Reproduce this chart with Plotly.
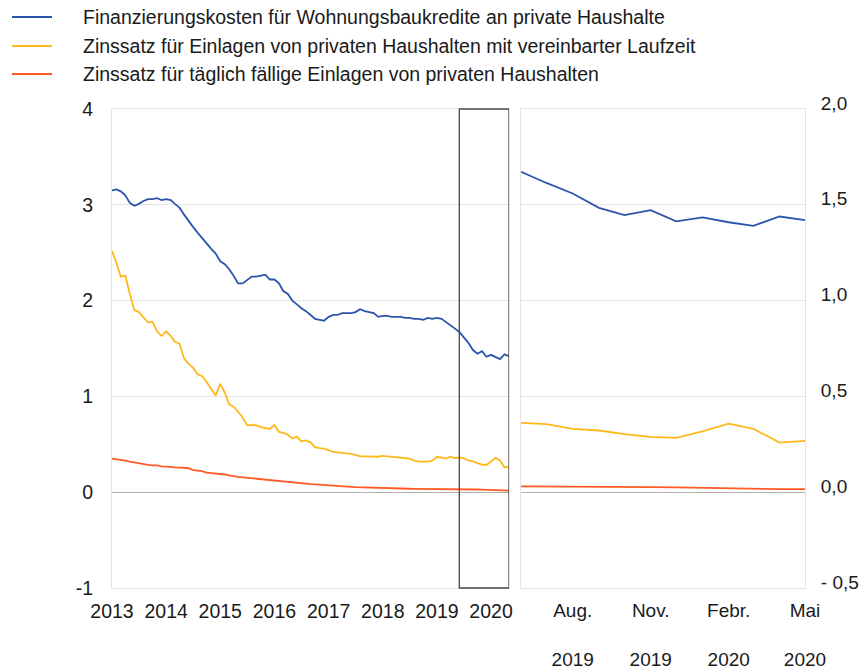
import pandas as pd
import plotly.graph_objects as go

# ---- data -------------------------------------------------------------
months = pd.date_range("2013-01-01", "2020-05-01", freq="MS").strftime("%Y-%m-%d").tolist()

series_names = [
    "Finanzierungskosten für Wohnungsbaukredite an private Haushalte",
    "Zinssatz für Einlagen von privaten Haushalten mit vereinbarter Laufzeit",
    "Zinssatz für täglich fällige Einlagen von privaten Haushalten",
]

kredite = [
    3.15, 3.16, 3.14, 3.10, 3.02, 2.99, 3.01, 3.04, 3.06, 3.06, 3.07, 3.05,
    3.06, 3.05, 3.01, 2.97, 2.90, 2.83, 2.77, 2.71, 2.65, 2.60, 2.54, 2.49,
    2.41, 2.38, 2.33, 2.26, 2.18, 2.18, 2.21, 2.25, 2.25, 2.26, 2.27, 2.22,
    2.22, 2.18, 2.10, 2.07, 2.00, 1.96, 1.92, 1.89, 1.85, 1.81, 1.80, 1.79,
    1.83, 1.85, 1.85, 1.87, 1.87, 1.87, 1.88, 1.91, 1.89, 1.88, 1.87, 1.83,
    1.84, 1.84, 1.83, 1.83, 1.83, 1.82, 1.82, 1.81, 1.81, 1.80, 1.82, 1.81,
    1.82, 1.81, 1.78, 1.75, 1.71,
    1.672, 1.614, 1.559, 1.484, 1.446, 1.472, 1.414, 1.434, 1.409, 1.390, 1.439, 1.420,
]

laufzeit = [
    2.52, 2.39, 2.25, 2.26, 2.07, 1.90, 1.88, 1.83, 1.77, 1.78, 1.68, 1.63,
    1.68, 1.63, 1.57, 1.55, 1.40, 1.34, 1.30, 1.23, 1.21, 1.15, 1.08, 1.01,
    1.13, 1.04, 0.92, 0.89, 0.84, 0.78, 0.70, 0.70, 0.70, 0.68, 0.67, 0.66,
    0.70, 0.63, 0.62, 0.60, 0.56, 0.58, 0.53, 0.54, 0.52, 0.47, 0.46, 0.455,
    0.44, 0.42, 0.415, 0.41, 0.41, 0.40, 0.39, 0.375, 0.375, 0.375, 0.37, 0.37,
    0.38, 0.375, 0.37, 0.37, 0.36, 0.355, 0.35, 0.33, 0.32, 0.32, 0.32, 0.33,
    0.37, 0.36, 0.35, 0.37, 0.355,
    0.362, 0.355, 0.331, 0.322, 0.303, 0.289, 0.284, 0.317, 0.358, 0.331, 0.259, 0.268,
]

taeglich = [
    0.35, 0.345, 0.34, 0.33, 0.32, 0.31, 0.30, 0.29, 0.285, 0.28, 0.28, 0.27,
    0.27, 0.265, 0.26, 0.26, 0.255, 0.25, 0.23, 0.225, 0.22, 0.205, 0.20, 0.195,
    0.195, 0.185, 0.175, 0.165, 0.16, 0.155, 0.15, 0.145, 0.14, 0.14, 0.135, 0.13,
    0.125, 0.12, 0.115, 0.11, 0.105, 0.10, 0.09, 0.088, 0.085, 0.082, 0.078, 0.075,
    0.07, 0.065, 0.06, 0.058, 0.056, 0.055, 0.052, 0.05, 0.05, 0.048, 0.046, 0.045,
    0.044, 0.042, 0.04, 0.04, 0.038, 0.037, 0.036, 0.035, 0.035, 0.035, 0.035, 0.034,
    0.034, 0.033, 0.033, 0.032, 0.032,
    0.030, 0.030, 0.029, 0.029, 0.028, 0.027, 0.025, 0.022, 0.018, 0.017, 0.016, 0.016,
]

zoom_start = "2019-06-01"   # start of the highlighted period / right panel

left_tickvals = ["2013-01-01", "2014-01-01", "2015-01-01", "2016-01-01",
                 "2017-01-01", "2018-01-01", "2019-01-01", "2020-01-01"]
left_ticktext = ["2013", "2014", "2015", "2016", "2017", "2018", "2019", "2020"]
left_yvals = [-1, 0, 1, 2, 3, 4]
left_ytext = ["-1", "0", "1", "2", "3", "4"]

right_tickvals = ["2019-08-01", "2019-11-01", "2020-02-01", "2020-05-01"]
right_ticktext = ["Aug.<br><br>2019", "Nov.<br><br>2019", "Febr.<br><br>2020", "Mai<br><br>2020"]
right_yvals = [-0.5, 0.0, 0.5, 1.0, 1.5, 2.0]
right_ytext = ["- 0,5", "0,0", "0,5", "1,0", "1,5", "2,0"]

colors = ["#2b55ad", "#ffb81c", "#ff5a26"]

# ---- figure -----------------------------------------------------------
W, H = 861, 671
FONT = "Liberation Sans, Arial, sans-serif"
FS = 19.5
TXT = "#1a1a1a"
GRID = "#e4e4e4"

idx0 = months.index(zoom_start)
fig = go.Figure()
for name, vals, col in zip(series_names, [kredite, laufzeit, taeglich], colors):
    fig.add_trace(go.Scatter(x=months, y=vals, mode="lines", name=name,
                             line=dict(color=col, width=1.8),
                             showlegend=False, xaxis="x", yaxis="y"))
for name, vals, col in zip(series_names, [kredite, laufzeit, taeglich], colors):
    fig.add_trace(go.Scatter(x=months[idx0:], y=vals[idx0:], mode="lines", name=name,
                             line=dict(color=col, width=1.8),
                             showlegend=False, xaxis="x2", yaxis="y2"))


def px_x(p):
    return p / W


def px_y(p):
    return 1 - p / H


dom_y = [px_y(588), px_y(109)]

axis_common = dict(showline=True, linecolor=GRID, linewidth=1, mirror=True,
                   gridcolor=GRID, gridwidth=1,
                   ticks="", automargin=False, fixedrange=True)
tf = dict(family=FONT, size=FS, color=TXT)

fig.update_layout(
    width=W, height=H,
    margin=dict(l=0, r=0, t=0, b=0),
    paper_bgcolor="white", plot_bgcolor="white",
    font=dict(family=FONT, size=FS, color=TXT),
    showlegend=False,
    xaxis=dict(domain=[px_x(112), px_x(509)], range=["2013-01-01", "2020-05-01"],
               type="date", tickmode="array", tickvals=left_tickvals, ticktext=left_ticktext,
               showgrid=False, ticklabelstandoff=6, anchor="y", tickfont=tf, **axis_common),
    yaxis=dict(domain=dom_y, range=[-1, 4], tickmode="array", tickvals=left_yvals,
               ticktext=left_ytext, showgrid=True, zeroline=True, zerolinecolor="#b0b0b0",
               zerolinewidth=1, ticklabelstandoff=14, anchor="x", tickfont=tf, **axis_common),
    xaxis2=dict(domain=[px_x(521), px_x(805)], range=[zoom_start, "2020-05-01"],
                type="date", tickmode="array", tickvals=right_tickvals, ticktext=right_ticktext,
                showgrid=False, ticklabelstandoff=5, anchor="y2",
                tickfont=dict(family=FONT, size=19, color=TXT), **axis_common),
    yaxis2=dict(domain=dom_y, range=[-0.5, 2.0], tickmode="array", tickvals=right_yvals,
                ticktext=right_ytext, side="right", showgrid=True, zeroline=True,
                zerolinecolor="#b0b0b0", zerolinewidth=1, ticklabelstandoff=11,
                ticklabelshift=-6, anchor="x2",
                tickfont=dict(family=FONT, size=19, color=TXT), **axis_common),
)

# highlighted period in the long-run panel
fig.add_shape(type="rect", xref="x", yref="y domain", x0=zoom_start, x1="2020-05-01",
              y0=0, y1=1, line=dict(color="#4a4a4a", width=1.3), fillcolor="rgba(0,0,0,0)",
              layer="above")

# legend (line sample + label)
legend_y = [17, 46, 74]
for name, col, ly in zip(series_names, colors, legend_y):
    fig.add_shape(type="line", xref="paper", yref="paper",
                  x0=px_x(12), x1=px_x(52), y0=px_y(ly), y1=px_y(ly),
                  line=dict(color=col, width=2))
    fig.add_annotation(xref="paper", yref="paper", x=px_x(81), y=px_y(ly),
                       xanchor="left", yanchor="middle", showarrow=False,
                       text=name, font=dict(family=FONT, size=FS, color=TXT))

fig.write_html("out.html", config={"displayModeBar": False},
               post_script="document.body.style.margin='0';document.body.style.padding='0';"
                           "document.documentElement.style.overflow='hidden';")
